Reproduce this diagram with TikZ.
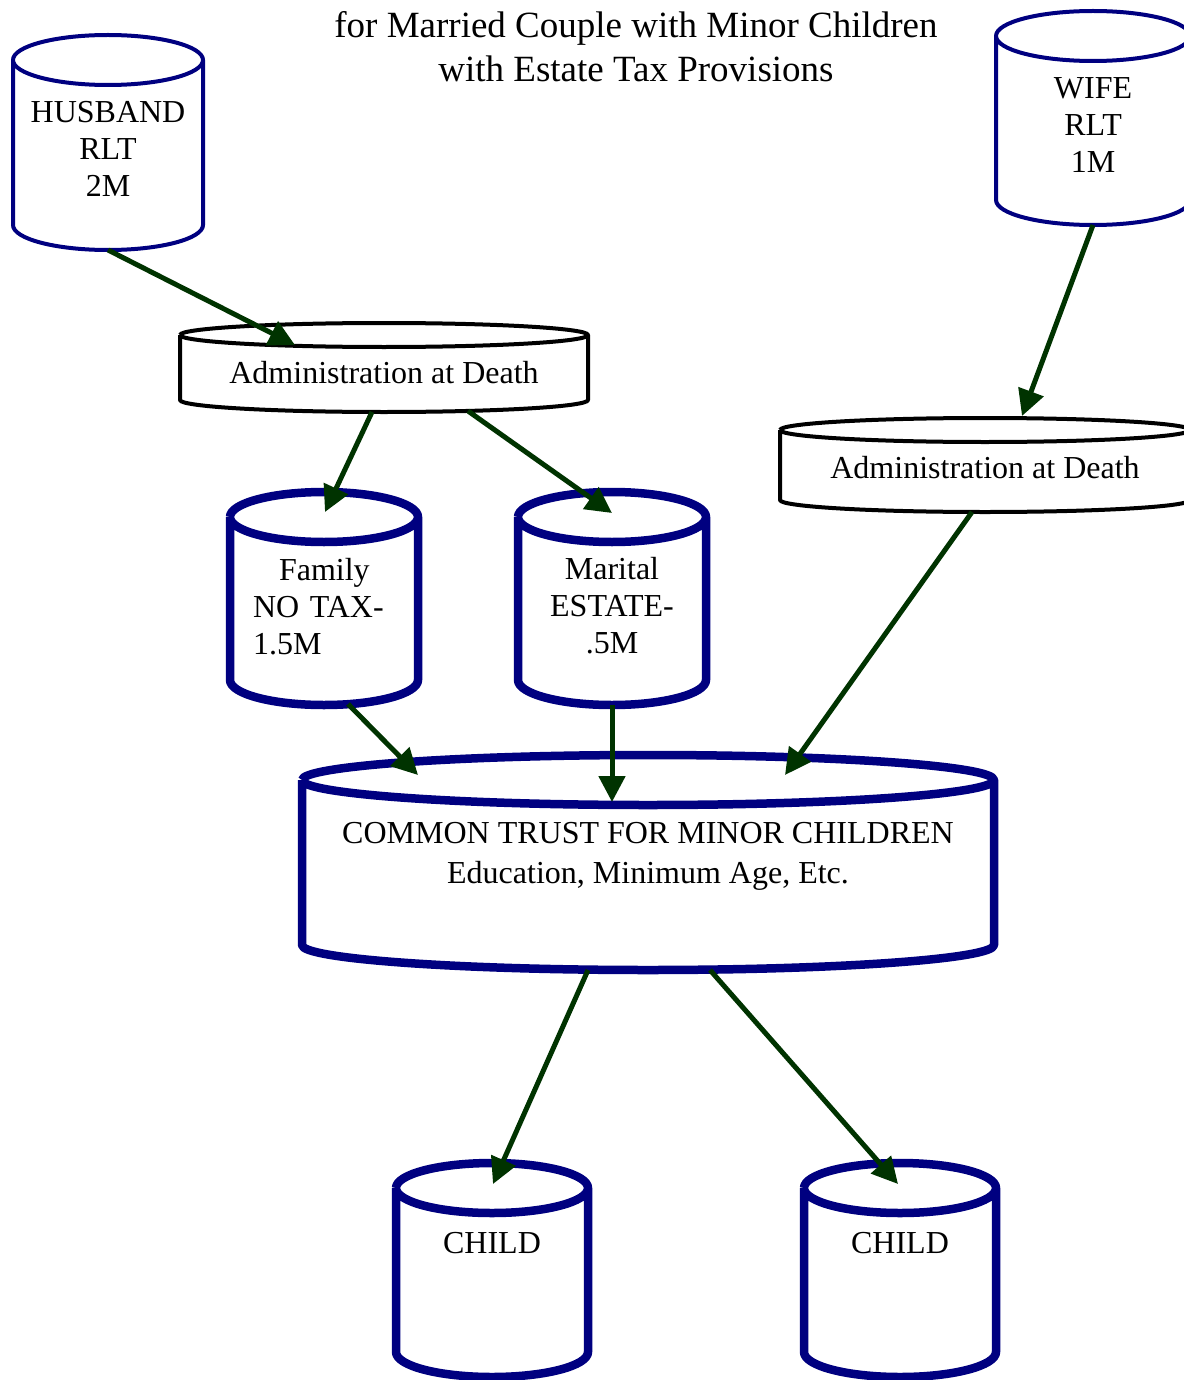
\documentclass[tikz,border=0pt]{standalone}
\usepackage{fontspec}
\setmainfont{Liberation Serif}
\usepackage{xcolor}
\usepackage{tikz}
\usetikzlibrary{arrows.meta, calc}

\definecolor{trustnavy}{RGB}{0,0,128}
\definecolor{flowgreen}{RGB}{0,51,0}

\newcommand{\lblsize}{\fontsize{32}{37}\selectfont}
\newcommand{\ttlsize}{\fontsize{37}{43.5}\selectfont}

% rim and sides of a drum round a named body node (#3 = y radius of the rims)
\newcommand{\drumline}[3][]{%
  \draw[#1] let \p1=(#2.north west), \p2=(#2.south east), \n1={(\x2-\x1)/2} in
    (\x1,\y1) -- (\x1,\y2) arc[start angle=180, end angle=360, x radius=\n1, y radius=#3pt]
    -- (\x2,\y1) arc[start angle=0, end angle=180, x radius=\n1, y radius=#3pt]
    (\x1,\y1) arc[start angle=180, end angle=360, x radius=\n1, y radius=#3pt];}

\tikzset{
  drumbody/.style={rectangle, inner sep=0pt, outer sep=0pt, align=center, font=\lblsize, text height=0pt, text depth=0pt},
  thinrim/.style={draw=trustnavy, line width=4pt, line join=round},
  thickrim/.style={draw=trustnavy, line width=8.5pt, line join=round},
  adminrim/.style={draw=black, line width=4pt, line join=round},
  flowarrow/.style={-{Triangle[length=26pt, width=26pt]}, line width=5pt, draw=flowgreen, fill=flowgreen},
  titletext/.style={font=\ttlsize, align=center},
}

\begin{document}
\begin{tikzpicture}[x=1pt, y=1pt]
  \fill[white] (0,0) rectangle (1183,-1380);
  \path[use as bounding box] (0,0) rectangle (1183,-1380);

  % Title
  \node[titletext, text height=67pt, text depth=0pt] (title) at (636,-48) {for Married Couple with Minor Children\\with Estate Tax Provisions};

  % Trusts of the spouses
  \node[drumbody, minimum width=190, minimum height=165, text height=108pt] (husband) at (108,-142.5) {HUSBAND\\RLT\\2M};
  \node[drumbody, minimum width=194, minimum height=164, text height=109pt] (wife) at (1093,-118) {WIFE\\RLT\\1M};

  % Administration
  \node[drumbody, minimum width=408, minimum height=65, text height=31pt] (admL) at (384,-367.5) {Administration at Death};
  \node[drumbody, minimum width=410, minimum height=70, text height=27pt] (admR) at (985,-465) {Administration at Death};

  % Shares
  \node[drumbody, align=left, text width=142, minimum width=188, minimum height=163, text depth=37pt] (family) at (324,-598.5) {\hspace*{26pt}Family\\NO TAX-\\1.5M};
  \node[drumbody, minimum width=188, minimum height=163, text height=109pt] (marital) at (612,-598.5) {Marital\\ESTATE-\\.5M};

  % Common trust
  \node[drumbody, minimum width=692, minimum height=165, text height=42pt] (common) at (648,-862.5) {COMMON TRUST FOR MINOR CHILDREN\\[3pt]Education, Minimum Age, Etc.};

  % Children
  \node[drumbody, minimum width=192, minimum height=164, text depth=33pt] (childL) at (492,-1270) {CHILD};
  \node[drumbody, minimum width=192, minimum height=164, text depth=33pt] (childR) at (900,-1270) {CHILD};

  % Outlines
  \drumline[thinrim]{husband}{25}
  \drumline[thinrim]{wife}{25}
  \drumline[adminrim]{admL}{12}
  \drumline[adminrim]{admR}{12}
  \drumline[thickrim]{family}{25}
  \drumline[thickrim]{marital}{25}
  \drumline[thickrim]{common}{25}
  \drumline[thickrim]{childL}{25}
  \drumline[thickrim]{childR}{25}

  % Flows
  \draw[flowarrow] ($(husband.south)+(0,-25)$) -- ($(admL.north)+(-89,-10)$);
  \draw[flowarrow] ($(wife.south)+(0,-25)$) -- ($(admR.north)+(37,14)$);
  \draw[flowarrow] ($(admL.south)+(-12,-12)$) -- ($(family.north)+(1,5)$);
  \draw[flowarrow] ($(admL.south)+(84,-11)$) -- ($(marital.north)+(0,4)$);
  \draw[flowarrow] ($(admR.south)+(-13,-12)$) -- ($(common.north)+(137,5)$);
  \draw[flowarrow] ($(family.south)+(24,-24)$) -- ($(common.north)+(-230,5)$);
  \draw[flowarrow] ($(marital.south)+(0,-25)$) -- ($(common.north)+(-36,-22)$);
  \draw[flowarrow] ($(common.south)+(-60,-25)$) -- ($(childL.north)+(1,4)$);
  \draw[flowarrow] ($(common.south)+(62,-25)$) -- ($(childR.north)+(-2,4)$);
\end{tikzpicture}
\end{document}
